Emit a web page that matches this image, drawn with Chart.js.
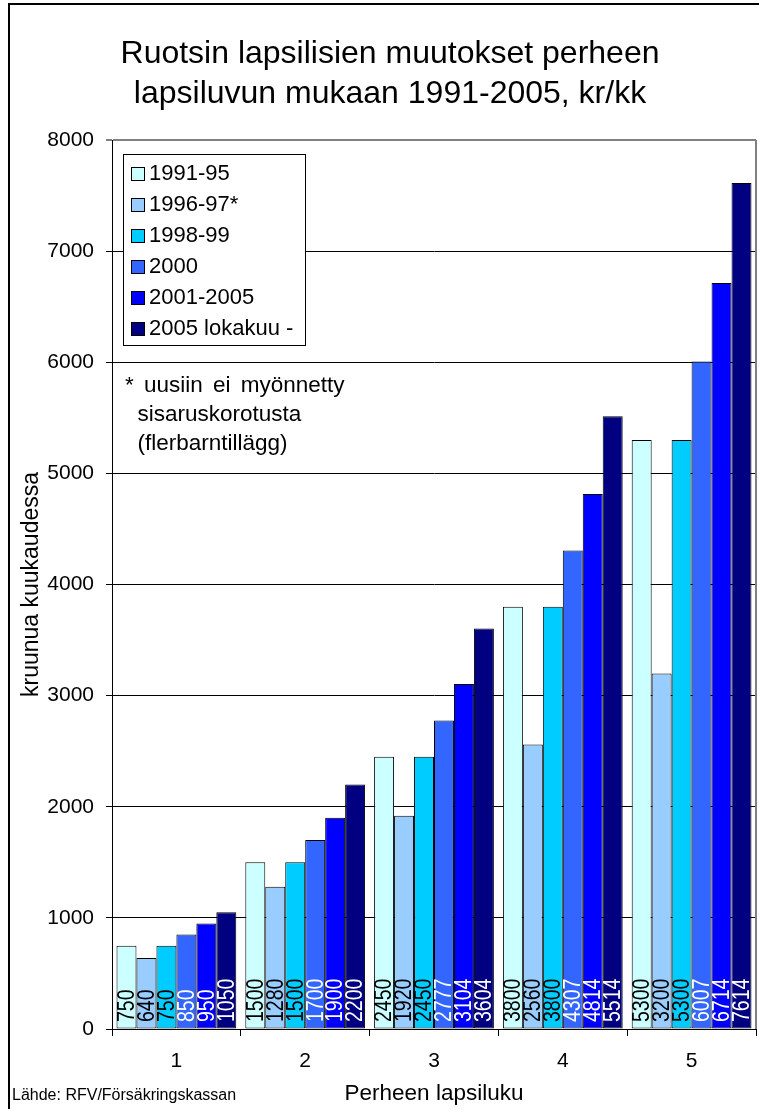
<!DOCTYPE html>
<html>
<head>
<meta charset="utf-8">
<script src="https://cdn.jsdelivr.net/npm/chart.js@4/dist/chart.umd.min.js"></script>
<style>
  body { margin: 0; background: #fff; font-family: "Liberation Sans", Arial, sans-serif; }
  #wrap { position: relative; width: 759px; height: 1109px; overflow: hidden; }
  #frame { position: absolute; left: 8px; top: 3px; right: -5px; bottom: -5px;
           border-left: 2px solid #000; border-top: 2px solid #000; pointer-events: none; }
  canvas { position: absolute; left: 0; top: 0; }
  #title { position: absolute; left: 40px; width: 700px; top: 32px; text-align: center;
           font-size: 32px; line-height: 40px; color: #000; white-space: nowrap; }
  #legend { position: absolute; left: 123px; top: 154px; width: 181px; height: 190px;
            border: 1px solid #000; background: #fff; }
  .item { position: absolute; left: 7px; height: 22px; line-height: 22px; font-size: 22px; color: #000; white-space: nowrap; }
  .sw { display: inline-block; width: 12px; height: 12px; border: 1px solid #000; vertical-align: -1px; margin-right: 4px; }
  #note { position: absolute; left: 125px; top: 370px; font-size: 22.5px; line-height: 29px; color: #000; white-space: nowrap; }
  #note .first { word-spacing: 4px; }
  #source { position: absolute; left: 12px; top: 1086px; font-size: 16px; color: #000; }
</style>
</head>
<body>
<div id="wrap">
  <canvas id="chart" width="759" height="1109"></canvas>
  <div id="frame"></div>
  <div id="title">Ruotsin lapsilisien muutokset perheen<br>lapsiluvun mukaan 1991-2005, kr/kk</div>
  <div id="legend"></div>
  <div id="note"><span class="first">* uusiin ei myönnetty</span><br>&nbsp; sisaruskorotusta<br>&nbsp; (flerbarntillägg)</div>
  <div id="source">Lähde: RFV/Försäkringskassan</div>
</div>
<script>
// data
const categories = ['1', '2', '3', '4', '5'];
const seriesNames = ['1991-95', '1996-97*', '1998-99', '2000', '2001-2005', '2005 lokakuu -'];
const seriesColors = ['#CCFFFF', '#99CCFF', '#00CCFF', '#3366FF', '#0000FF', '#000080'];
const labelColors = ['#000', '#000', '#000', '#fff', '#fff', '#fff'];

const v1991 = [750, 1500, 2450, 3800, 5300];
const v1996 = [640, 1280, 1920, 2560, 3200];
const v1998 = [750, 1500, 2450, 3800, 5300];
const v2000 = [850, 1700, 2777, 4307, 6007];
const v2001 = [950, 1900, 3104, 4814, 6714];
const v2005 = [1050, 2200, 3604, 5514, 7614];
const seriesValues = [v1991, v1996, v1998, v2000, v2001, v2005];

const yMin = 0, yMax = 8000, yStep = 1000;

Chart.defaults.font.family = '"Liberation Sans", Arial, sans-serif';
Chart.defaults.color = '#000';

// legend box
const legend = document.getElementById('legend');
seriesNames.forEach(function (name, i) {
    const div = document.createElement('div');
    div.className = 'item';
    div.style.top = (7 + i * 31) + 'px';
    div.innerHTML = '<span class="sw" style="background:' + seriesColors[i] + '"></span>' + name;
    legend.appendChild(div);
});

// vertical value labels at the foot of each bar
const barLabels = {
    id: 'barLabels',
    afterDatasetsDraw(chart) {
        const ctx = chart.ctx;
        const base = chart.scales.y.getPixelForValue(0);
        chart.data.datasets.forEach(function (ds, i) {
            chart.getDatasetMeta(i).data.forEach(function (bar, j) {
                ctx.save();
                ctx.translate(bar.x, base - 7);
                ctx.rotate(-Math.PI / 2);
                ctx.scale(0.85, 1);
                ctx.font = '23px "Liberation Sans", Arial, sans-serif';
                ctx.fillStyle = labelColors[i];
                ctx.textAlign = 'left';
                ctx.textBaseline = 'middle';
                ctx.fillText(String(ds.data[j]), 0, 1);
                ctx.restore();
            });
        });
    }
};

// grey plot-area edge on the right
const plotEdge = {
    id: 'plotEdge',
    beforeDatasetsDraw(chart) {
        const a = chart.chartArea, ctx = chart.ctx;
        ctx.save();
        ctx.strokeStyle = '#808080';
        ctx.lineWidth = 2;
        ctx.beginPath();
        ctx.moveTo(a.right, a.top);
        ctx.lineTo(a.right, a.bottom);
        ctx.stroke();
        ctx.restore();
    }
};

new Chart(document.getElementById('chart').getContext('2d'), {
    type: 'bar',
    data: {
        labels: categories,
        datasets: seriesNames.map(function (name, i) {
            return {
                label: name,
                data: seriesValues[i],
                backgroundColor: seriesColors[i],
                borderColor: '#000',
                borderWidth: 1,
                borderSkipped: false,
                categoryPercentage: 0.93,
                barPercentage: 1.0
            };
        })
    },
    options: {
        responsive: false,
        animation: false,
        devicePixelRatio: 1,
        layout: { padding: { top: 140, left: 0, right: 3, bottom: 0 } },
        plugins: {
            legend: { display: false },
            tooltip: { enabled: false },
            title: { display: false }
        },
        scales: {
            x: {
                grid: { offset: true, drawOnChartArea: false, tickLength: 7, color: '#000' },
                border: { color: '#000', width: 1 },
                ticks: { font: { size: 21 }, color: '#000', padding: 13 },
                title: {
                    display: true,
                    text: 'Perheen lapsiluku',
                    font: { size: 22.5 },
                    color: '#000',
                    padding: { top: 0, bottom: 2 }
                },
                afterFit: function (s) { s.height = 80; }
            },
            y: {
                min: yMin,
                max: yMax,
                ticks: {
                    stepSize: yStep, font: { size: 21 }, color: '#000', padding: 12,
                    callback: function (v) { return String(v); }
                },
                grid: {
                    tickLength: 6,
                    color: function (c) { return c.tick && c.tick.value === yMax ? '#808080' : '#000'; },
                    lineWidth: function (c) { return c.tick && c.tick.value === yMax ? 2 : 1; }
                },
                border: { color: '#000', width: 1 },
                title: {
                    display: true,
                    text: 'kruunua kuukaudessa',
                    font: { size: 23 },
                    color: '#000',
                    padding: { top: 18, bottom: 0 }
                },
                afterFit: function (s) { s.width = 112; }
            }
        }
    },
    plugins: [barLabels, plotEdge]
});
</script>
</body>
</html>
